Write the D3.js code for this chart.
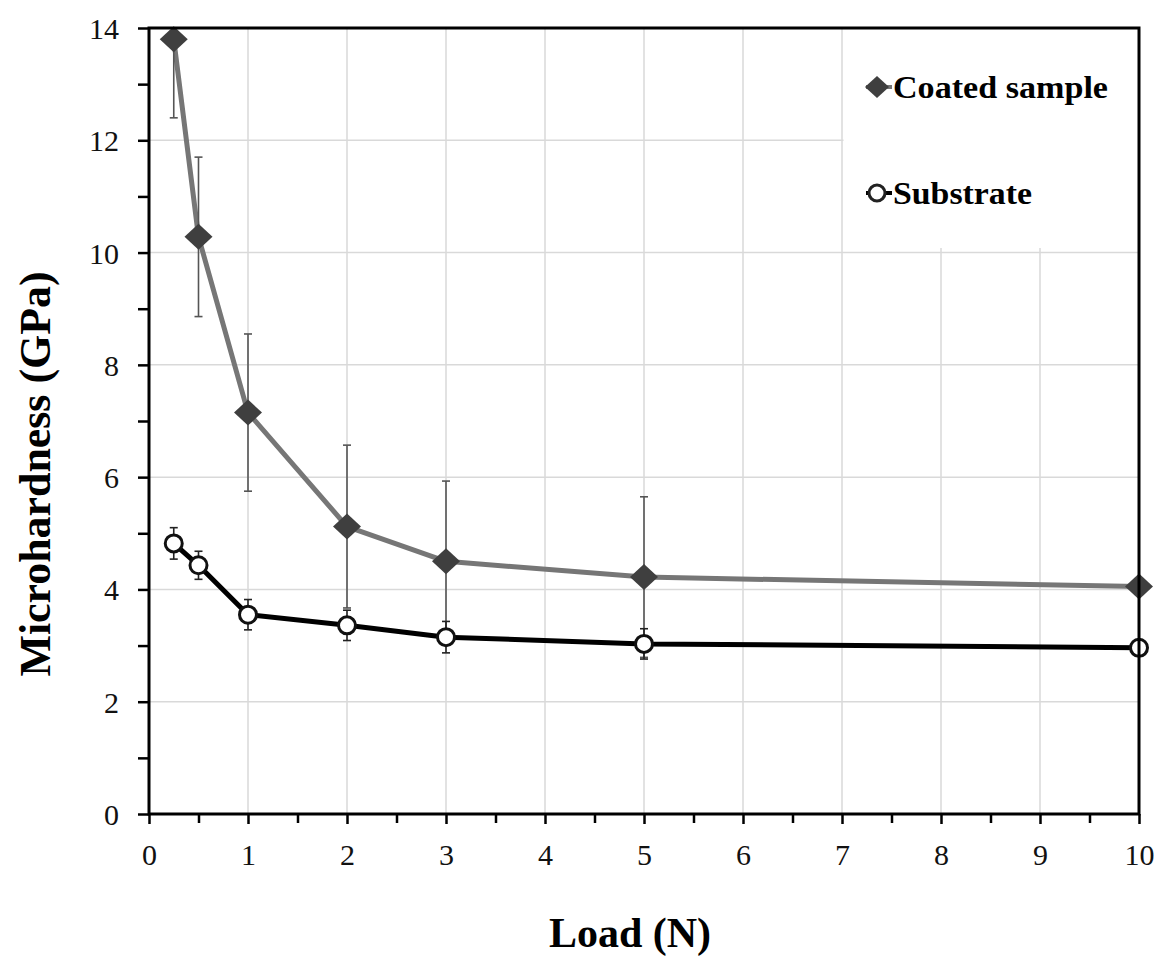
<!DOCTYPE html>
<html lang="en"><head>
<meta charset="utf-8">
<title>Microhardness vs Load</title>
<script src="https://cdnjs.cloudflare.com/ajax/libs/d3/7.8.5/d3.min.js"></script>
<style>
  body { margin: 0; background: #fff; }
  text { font-family: "Liberation Serif", "Times New Roman", serif; }
</style>
</head>
<body>
<svg id="chart" width="1162" height="959"></svg>
<script>
// data
const loads = [0.25, 0.5, 1, 2, 3, 5, 10];
const coated = [13.8, 10.28, 7.15, 5.12, 4.5, 4.22, 4.05];
const coatedErr = [1.4, 1.42, 1.4, 1.45, 1.43, 1.43, 0];
const substrate = [4.82, 4.43, 3.55, 3.36, 3.15, 3.03, 2.96];
const substrateErr = [0.28, 0.25, 0.27, 0.27, 0.28, 0.27, 0];
const xTicks = [0, 1, 2, 3, 4, 5, 6, 7, 8, 9, 10];
const yTicks = [0, 2, 4, 6, 8, 10, 12, 14];

const svg = d3.select("#chart");
const mLeft = 149, mRight = 1139, mTop = 28, mBottom = 814;

let x = d3.scaleLinear().domain([0, 10]).range([mLeft, mRight]);
let y = d3.scaleLinear().domain([0, 14]).range([mBottom, mTop]);

svg.append("clipPath").attr("id", "plotclip")
  .append("rect")
  .attr("x", mLeft).attr("y", mTop)
  .attr("width", mRight - mLeft).attr("height", mBottom - mTop);

// grid
let grid = svg.append("g");
grid.selectAll(".vg").data(xTicks.slice(1, -1)).enter()
  .append("line")
  .attr("x1", d => x(d)).attr("x2", d => x(d))
  .attr("y1", mTop).attr("y2", mBottom)
  .attr("stroke", "#d9d9d9").attr("stroke-width", 1.5);
grid.selectAll(".hg").data(yTicks.slice(1, -1)).enter()
  .append("line")
  .attr("x1", mLeft).attr("x2", mRight)
  .attr("y1", d => y(d)).attr("y2", d => y(d))
  .attr("stroke", "#d9d9d9").attr("stroke-width", 1.5);

// legend area covers the grid in the top right corner
svg.append("rect")
  .attr("x", x(7) + 1.5).attr("y", mTop)
  .attr("width", mRight - x(7) - 1.5).attr("height", 220)
  .attr("fill", "#fff");

function drawSeries(vals, errs, lineColor, errColor) {
  let pts = loads.map((l, i) => ({ x: l, y: vals[i], e: errs[i] }));
  let g = svg.append("g").attr("clip-path", "url(#plotclip)");
  g.append("path")
    .datum(pts)
    .attr("d", d3.line().x(d => x(d.x)).y(d => y(d.y)))
    .attr("fill", "none")
    .attr("stroke", lineColor)
    .attr("stroke-width", 5)
    .attr("stroke-linejoin", "round");
  let eb = g.selectAll(".eb").data(pts.filter(d => d.e > 0)).enter().append("g")
    .attr("stroke", errColor).attr("stroke-width", 1.6);
  eb.append("line")
    .attr("x1", d => x(d.x)).attr("x2", d => x(d.x))
    .attr("y1", d => y(d.y - d.e)).attr("y2", d => y(d.y + d.e));
  eb.append("line")
    .attr("x1", d => x(d.x) - 4).attr("x2", d => x(d.x) + 4)
    .attr("y1", d => y(d.y - d.e)).attr("y2", d => y(d.y - d.e));
  eb.append("line")
    .attr("x1", d => x(d.x) - 4).attr("x2", d => x(d.x) + 4)
    .attr("y1", d => y(d.y + d.e)).attr("y2", d => y(d.y + d.e));
  return pts;
}

const diamond = "M0,-13L14,0L0,13L-14,0Z";

let cPts = drawSeries(coated, coatedErr, "#767676", "#555");
svg.append("g").selectAll("path").data(cPts).enter()
  .append("path")
  .attr("d", diamond)
  .attr("transform", d => `translate(${x(d.x)},${y(d.y)})`)
  .attr("fill", "#3f3f3f");

let sPts = drawSeries(substrate, substrateErr, "#000", "#222");
svg.append("g").selectAll("circle").data(sPts).enter()
  .append("circle")
  .attr("cx", d => x(d.x)).attr("cy", d => y(d.y))
  .attr("r", 8.5)
  .attr("fill", "#fff").attr("stroke", "#111").attr("stroke-width", 3);

// axes
let xAxis = svg.append("g").attr("transform", `translate(0,${mBottom})`)
  .call(d3.axisBottom(x).tickValues(xTicks).tickSize(10).tickPadding(20).tickFormat(d3.format("d")));
let xMinor = svg.append("g").attr("transform", `translate(0,${mBottom})`)
  .call(d3.axisBottom(x).tickValues(d3.range(0.5, 10, 1)).tickSize(9).tickFormat(""));
let yAxis = svg.append("g").attr("transform", `translate(${mLeft},0)`)
  .call(d3.axisLeft(y).tickValues(yTicks).tickSize(11).tickPadding(19).tickFormat(d3.format("d")));
let yMinor = svg.append("g").attr("transform", `translate(${mLeft},0)`)
  .call(d3.axisLeft(y).tickValues(d3.range(1, 14, 2)).tickSize(11).tickFormat(""));

[xAxis, xMinor, yAxis, yMinor].forEach(a => {
  a.select(".domain").remove();
  a.selectAll(".tick line").attr("stroke", "#000").attr("stroke-width", 2.5);
  a.selectAll(".tick text")
    .attr("font-family", "Liberation Serif, serif")
    .attr("font-size", 30).attr("fill", "#111");
});
yAxis.selectAll(".tick text").attr("dy", "0.35em");

// frame
svg.append("rect")
  .attr("x", mLeft).attr("y", mTop)
  .attr("width", mRight - mLeft).attr("height", mBottom - mTop)
  .attr("fill", "none").attr("stroke", "#000").attr("stroke-width", 3);

// legend
let lg = svg.append("g");
lg.append("line").attr("x1", 866).attr("x2", 892).attr("y1", 87).attr("y2", 87)
  .attr("stroke", "#767676").attr("stroke-width", 4);
lg.append("path").attr("d", "M0,-11L12,0L0,11L-12,0Z")
  .attr("transform", "translate(877,87)").attr("fill", "#3f3f3f");
lg.append("text").attr("x", 893).attr("y", 98)
  .attr("font-size", 31).attr("font-weight", "bold")
  .attr("textLength", 215).attr("lengthAdjust", "spacingAndGlyphs")
  .text("Coated sample");
lg.append("line").attr("x1", 866).attr("x2", 892).attr("y1", 193).attr("y2", 193)
  .attr("stroke", "#000").attr("stroke-width", 4);
lg.append("circle").attr("cx", 877).attr("cy", 193).attr("r", 8)
  .attr("fill", "#fff").attr("stroke", "#222").attr("stroke-width", 3);
lg.append("text").attr("x", 893).attr("y", 204)
  .attr("font-size", 31).attr("font-weight", "bold")
  .attr("textLength", 139).attr("lengthAdjust", "spacingAndGlyphs")
  .text("Substrate");

// axis titles
svg.append("text")
  .attr("x", 630).attr("y", 947)
  .attr("text-anchor", "middle")
  .attr("font-size", 42).attr("font-weight", "bold")
  .text("Load (N)");
svg.append("text")
  .attr("transform", "translate(50,474) rotate(-90)")
  .attr("text-anchor", "middle")
  .attr("font-size", 44).attr("font-weight", "bold")
  .attr("textLength", 405).attr("lengthAdjust", "spacingAndGlyphs")
  .text("Microhardness (GPa)");
</script>
</body>
</html>
